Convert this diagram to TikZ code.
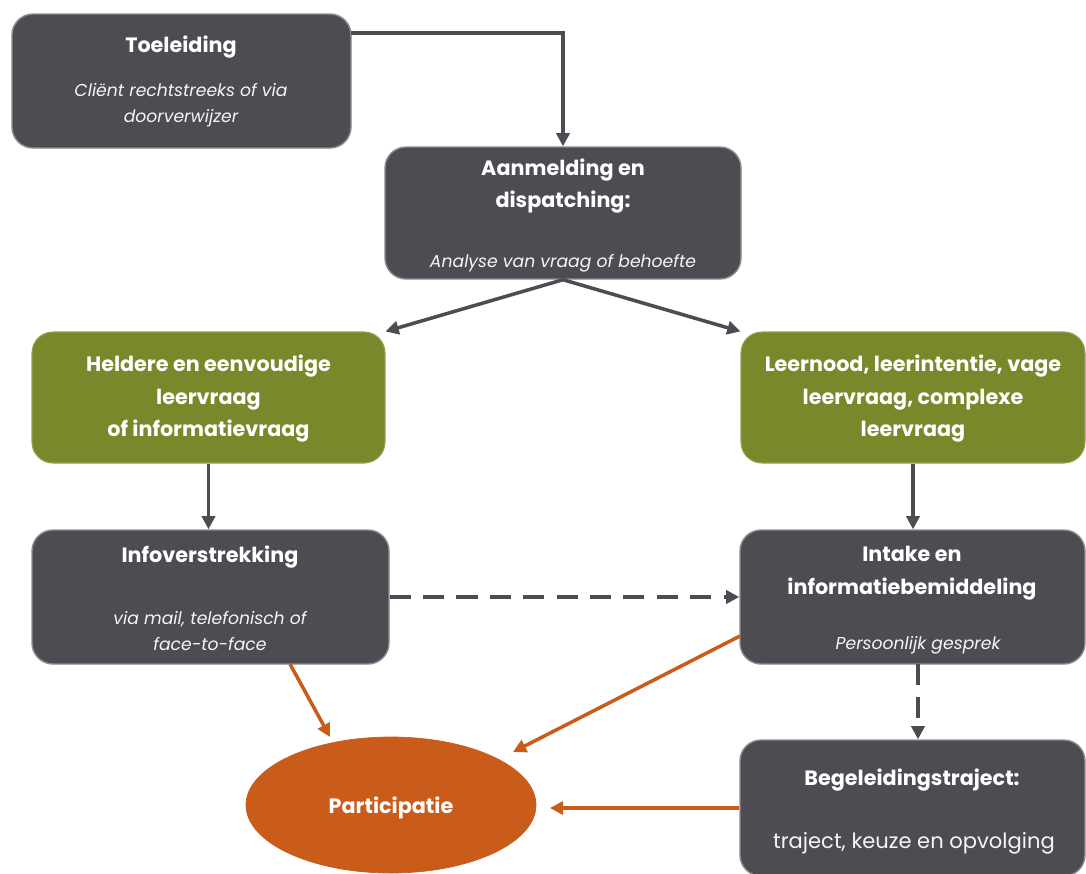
\documentclass[tikz,border=0pt]{standalone}
\usepackage{fontspec}
\setmainfont{Poppins}
\usetikzlibrary{arrows.meta,shapes.geometric}
\definecolor{boxgray}{HTML}{4D4C52}
\definecolor{boxedge}{HTML}{8C8C90}
\definecolor{leaf}{HTML}{77892A}
\definecolor{rust}{HTML}{C95C1B}
\definecolor{linegray}{HTML}{4D4C52}
\tikzset{
  x=0.02cm,y=-0.02cm,
  graybox/.style={draw=boxedge,line width=0.8pt,fill=boxgray,rounded corners=0.42cm,inner sep=0pt},
  greenbox/.style={draw=leaf!80!white,line width=0.6pt,fill=leaf,rounded corners=0.42cm,inner sep=0pt},
  ttl/.style={text=white,font=\fontsize{11.8}{18.5}\selectfont\bfseries,align=center,inner sep=0pt},
  sub/.style={text=white!92!gray,font=\fontsize{9.8}{15}\selectfont\itshape,align=center,inner sep=0pt},
  plain/.style={text=white!92!gray,font=\fontsize{12}{15}\selectfont,align=center,inner sep=0pt},
  garrow/.style={draw=linegray,line width=2pt,-{Triangle[length=7.5pt,width=7.5pt]}},
  gdash/.style={garrow,dash pattern=on 12pt off 7pt},
  oarrow/.style={draw=rust,line width=2pt,-{Triangle[length=7.5pt,width=7.5pt]}},
}
\begin{document}
\begin{tikzpicture}
\useasboundingbox (0,0) rectangle (1086,873);
% boxes
\node[graybox,minimum width=339*0.02cm,minimum height=134*0.02cm] (toel) at (181.5,81) {};
\node[graybox,minimum width=356*0.02cm,minimum height=132*0.02cm] (aanm) at (563,213) {};
\node[greenbox,minimum width=353*0.02cm,minimum height=131*0.02cm] (gleft) at (208.5,397.5) {};
\node[greenbox,minimum width=344*0.02cm,minimum height=131*0.02cm] (gright) at (913,397.5) {};
\node[graybox,minimum width=357*0.02cm,minimum height=134*0.02cm] (info) at (210.5,597) {};
\node[graybox,minimum width=345*0.02cm,minimum height=134*0.02cm] (intake) at (912.5,597) {};
\node[graybox,minimum width=345*0.02cm,minimum height=136*0.02cm] (beg) at (912.5,808) {};
\node[ellipse,fill=rust,draw=rust,minimum width=290*0.02cm,minimum height=136*0.02cm,inner sep=0pt] (part) at (391,805) {};
% texts
\node[ttl] (toelT) at (181,47) {Toeleiding};
\node[sub] (toelS) at (181,105) {Cliënt rechtstreeks of via\\doorverwijzer};
\node[ttl] (aanmT) at (563,186) {Aanmelding en\\dispatching:};
\node[sub] (aanmS) at (563,263) {Analyse van vraag of behoefte};
\node[ttl] (gleftT) at (208.5,399) {Heldere en eenvoudige\\leervraag\\of informatievraag};
\node[ttl] (grightT) at (913,399) {Leernood, leerintentie, vage\\leervraag, complexe\\leervraag};
\node[ttl] (infoT) at (210,557) {Infoverstrekking};
\node[sub] (infoS) at (210,631) {via mail, telefonisch of\\face-to-face};
\node[ttl] (intakeT) at (912,573) {Intake en\\informatiebemiddeling};
\node[sub] (intakeS) at (918,645) {Persoonlijk gesprek};
\node[ttl] (begT) at (912,780) {Begeleidingstraject:};
\node[plain] (begS) at (914,843) {traject, keuze en opvolging};
\node[ttl] (partT) at (391,808) {Participatie};
% connectors
\coordinate (toelOut) at (351,33);
\draw[garrow] (toelOut) -| (aanm.north);
\draw[garrow] (aanm.south) -- (gleft.north east);
\draw[garrow] (aanm.south) -- (gright.north west);
\draw[garrow] (gleft.south) -- (gleft.south |- info.north);
\draw[garrow] (gright.south) -- (gright.south |- intake.north);
\draw[gdash] (info.east) -- (intake.west);
\coordinate (intakeB) at (918,664);
\draw[gdash] (intakeB) -- (intakeB |- beg.north);
\coordinate (infoB) at (290,664);
\coordinate (partA) at (330,737);
\draw[oarrow] (infoB) -- (partA);
\coordinate (intakeL) at (740,636);
\coordinate (partB) at (513,752);
\draw[oarrow] (intakeL) -- (partB);
\coordinate (partC) at (550,808);
\draw[oarrow] (beg.west) -- (partC);
\end{tikzpicture}
\end{document}
